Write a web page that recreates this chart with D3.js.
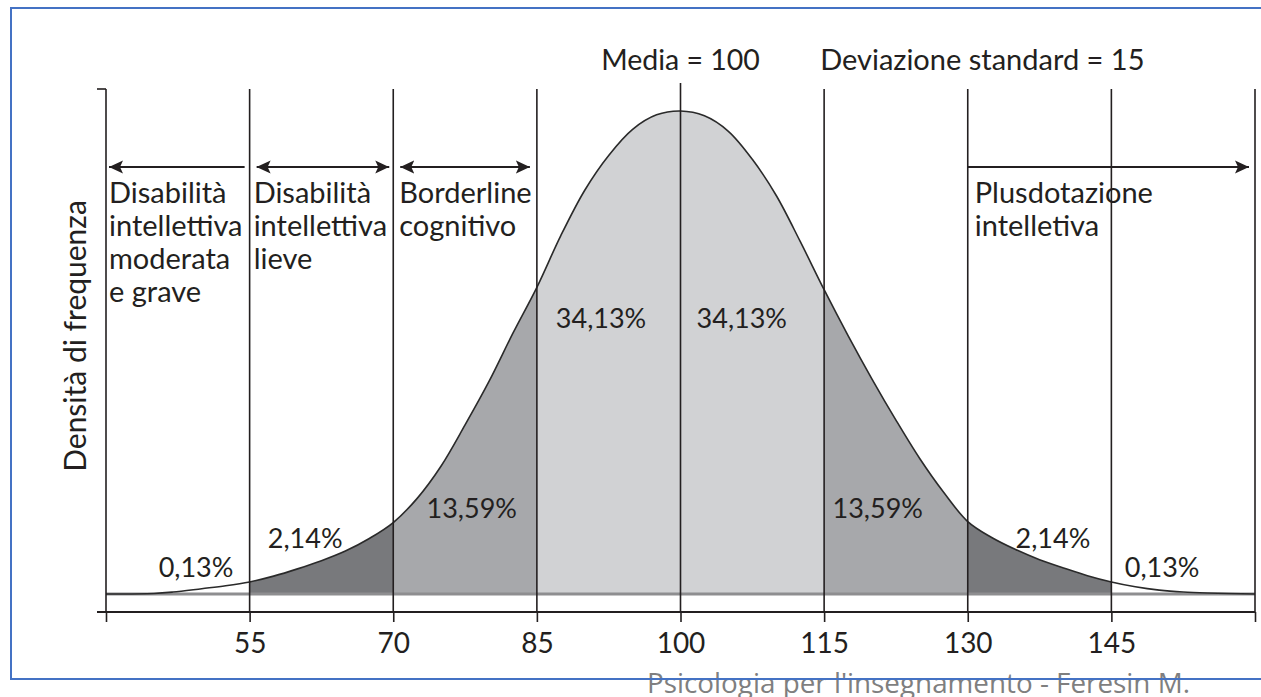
<!DOCTYPE html>
<html>
<head>
<meta charset="utf-8">
<script src="https://cdn.jsdelivr.net/npm/d3@7"></script>
<style>
  html, body { margin: 0; padding: 0; background: #fff; }
  svg { display: block; }
  text { font-family: Lato, "Open Sans", sans-serif; fill: #231f20; }
</style>
</head>
<body>
<svg id="chart" width="1261" height="697"></svg>
<script>
// ---------------- DATA ----------------
const boundaries = [40, 55, 70, 85, 100, 115, 130, 145, 160];
const tickLabels = ["", "55", "70", "85", "100", "115", "130", "145", ""];

// curve (relative frequency density, peak = 1)
const curveIQ = [40, 45, 47, 50, 52.5, 55, 57.5, 60, 62.5, 65, 67.5, 70, 72.5, 75, 77.5, 80, 82.5, 85,
  87.5, 90, 92.5, 95, 97.5, 100, 102.5, 105, 107.5, 110, 112.5, 115, 117.5, 120, 122.5, 125, 127.5, 130,
  132.5, 135, 137.5, 140, 142.5, 145, 147.5, 150, 152.5, 155, 160];
const curveDensity = [0, 0.001, 0.004, 0.011, 0.017, 0.025, 0.037, 0.052, 0.069, 0.089, 0.115, 0.148, 0.198,
  0.265, 0.35, 0.44, 0.54, 0.635, 0.742, 0.836, 0.908, 0.962, 0.992, 1, 0.99, 0.958, 0.9, 0.825, 0.73,
  0.63, 0.535, 0.445, 0.36, 0.28, 0.21, 0.15, 0.117, 0.092, 0.071, 0.054, 0.038, 0.025, 0.015, 0.008,
  0.004, 0.002, 0];

// shaded bands
const bandFrom = [55, 70, 85, 115, 130];
const bandTo = [70, 85, 115, 130, 145];
const bandLevel = [2, 1, 0, 1, 2];

// percentage labels
const pctLabels = ["0,13%", "2,14%", "13,59%", "34,13%", "34,13%", "13,59%", "2,14%", "0,13%"];

// categories with arrows
const catLines = [
  ["Disabilità", "intellettiva", "moderata", "e grave"],
  ["Disabilità", "intellettiva", "lieve"],
  ["Borderline", "cognitivo"],
  ["Plusdotazione", "intelletiva"]
];
const catFrom = [40, 55, 70, 130];
const catTo = [55, 70, 85, 160];
const catHeads = ["start", "both", "both", "end"];

const headerTexts = ["Media = 100", "Deviazione standard = 15"];
const yLabel = "Densità di frequenza";
const footer = "Psicologia per l'insegnamento - Feresin M.";

// ---------------- LAYOUT ----------------
const pctX = [49.4, 60.8, 78.2, 91.7, 106.4, 120.6, 138.9, 150.3];
const pctY = [577, 548, 518, 328, 328, 518, 548, 577];
const shadeColors = ["#d1d2d4", "#a7a8ab", "#78797c"];
const FS_WORD = 29, FS_PCT = 27, FS_TICK = 28, FS_YLAB = 30;

const svg = d3.select("#chart");
const x = d3.scaleLinear().domain([40, 160]).range([106, 1255]);
const y = d3.scaleLinear().domain([0, 1]).range([594, 111]);
const shade = d3.scaleOrdinal().domain([0, 1, 2]).range(shadeColors);
const ink = "#231f20";

const pts = curveIQ.map((v, i) => ({ iq: v, d: curveDensity[i] }));
const smooth = d3.curveCatmullRom.alpha(0.5);

// footer (behind frame)
svg.append("text")
  .attr("x", 647).attr("y", 693)
  .attr("textLength", 543).attr("lengthAdjust", "spacingAndGlyphs")
  .style("font-family", "'Open Sans', sans-serif")
  .style("font-size", "28px").style("fill", "#7f7f7f")
  .text(footer);

// frame
svg.append("rect")
  .attr("x", 11).attr("y", 8).attr("width", 1270).attr("height", 671)
  .attr("fill", "none").attr("stroke", "#4472c4").attr("stroke-width", 2);

// bands
const area = d3.area().x(d => x(d.iq)).y0(y(0)).y1(d => y(d.d)).curve(smooth);
bandFrom.forEach((f, i) => {
  const seg = pts.filter(p => p.iq >= f - 2.5 && p.iq <= bandTo[i] + 2.5);
  svg.append("clipPath").attr("id", "band" + i)
    .append("rect").attr("x", x(f)).attr("y", 0)
    .attr("width", x(bandTo[i]) - x(f)).attr("height", 697);
  svg.append("path").attr("d", area(seg)).attr("fill", shade(bandLevel[i]))
    .attr("clip-path", `url(#band${i})`);
});

// baseline gray line
svg.append("line")
  .attr("x1", x(40)).attr("x2", x(160)).attr("y1", y(0)).attr("y2", y(0))
  .attr("stroke", "#8e8e90").attr("stroke-width", 3);

// curve
const line = d3.line().x(d => x(d.iq)).y(d => y(d.d)).curve(smooth);
svg.append("path").attr("d", line(pts))
  .attr("fill", "none").attr("stroke", "#2a2a2a").attr("stroke-width", 1.6);

// x axis
const axis = d3.axisBottom(x).tickValues(boundaries).tickSize(10)
  .tickFormat((d, i) => tickLabels[i]);
const gx = svg.append("g").attr("transform", `translate(0,612)`).call(axis);
gx.select(".domain").remove();
gx.selectAll(".tick line").attr("stroke", ink).attr("stroke-width", 1.6);
gx.selectAll(".tick text")
  .attr("y", 41).attr("dy", null)
  .style("font-family", "Lato, sans-serif").style("font-size", FS_TICK + "px").style("fill", ink);
svg.append("line")
  .attr("x1", 97).attr("x2", x(160)).attr("y1", 612).attr("y2", 612)
  .attr("stroke", ink).attr("stroke-width", 1.8);

// vertical lines
svg.selectAll("line.vl").data(boundaries).enter().append("line")
  .attr("class", "vl")
  .attr("x1", d => x(d)).attr("x2", d => x(d))
  .attr("y1", d => d === 100 ? 83 : 89).attr("y2", 612)
  .attr("stroke", ink).attr("stroke-width", 1.6);
// top tick on y axis
svg.append("line").attr("x1", 97).attr("x2", x(40)).attr("y1", 89).attr("y2", 89)
  .attr("stroke", ink).attr("stroke-width", 1.6);

// arrow markers
const defs = svg.append("defs");
defs.append("marker").attr("id", "ahEnd").attr("viewBox", "0 0 14 14")
  .attr("refX", 14).attr("refY", 7).attr("markerWidth", 14).attr("markerHeight", 14)
  .attr("markerUnits", "userSpaceOnUse").attr("orient", "auto")
  .append("path").attr("d", "M0,0.5 L14,7 L0,13.5 L3,7 Z").attr("fill", ink);
defs.append("marker").attr("id", "ahStart").attr("viewBox", "0 0 14 14")
  .attr("refX", 0).attr("refY", 7).attr("markerWidth", 14).attr("markerHeight", 14)
  .attr("markerUnits", "userSpaceOnUse").attr("orient", "auto")
  .append("path").attr("d", "M14,0.5 L0,7 L14,13.5 L11,7 Z").attr("fill", ink);

const arrowInsetL = [3, 7, 7, 0];
const arrowInsetR = [5, 4, 7, 6];
catFrom.forEach((f, i) => {
  const l = svg.append("line")
    .attr("x1", x(f) + arrowInsetL[i]).attr("x2", x(catTo[i]) - arrowInsetR[i])
    .attr("y1", 167).attr("y2", 167)
    .attr("stroke", ink).attr("stroke-width", 2);
  if (catHeads[i] === "start" || catHeads[i] === "both") l.attr("marker-start", "url(#ahStart)");
  if (catHeads[i] === "end" || catHeads[i] === "both") l.attr("marker-end", "url(#ahEnd)");
});

// category labels
const catInset = [3, 4, 6, 7];
catLines.forEach((lines, i) => {
  const t = svg.append("text").attr("x", x(catFrom[i]) + catInset[i]).attr("y", 203)
    .style("font-size", FS_WORD + "px");
  lines.forEach((s, j) => {
    t.append("tspan").attr("x", x(catFrom[i]) + catInset[i]).attr("y", 203 + j * 33).text(s);
  });
});

// header
svg.append("text").attr("x", x(100)).attr("y", 70).attr("text-anchor", "middle")
  .style("font-size", (FS_WORD - 0.5) + "px").text(headerTexts[0]);
svg.append("text").attr("x", x(115) - 4).attr("y", 70)
  .style("font-size", FS_WORD + "px").text(headerTexts[1]);

// percentage labels
svg.selectAll("text.pct").data(pctLabels).enter().append("text")
  .attr("class", "pct")
  .attr("x", (d, i) => x(pctX[i])).attr("y", (d, i) => pctY[i])
  .attr("text-anchor", "middle")
  .style("font-size", FS_PCT + "px").text(d => d);

// y label
svg.append("text")
  .attr("transform", "translate(86,336) rotate(-90)")
  .attr("text-anchor", "middle")
  .style("font-size", FS_YLAB + "px").text(yLabel);
</script>
</body>
</html>
